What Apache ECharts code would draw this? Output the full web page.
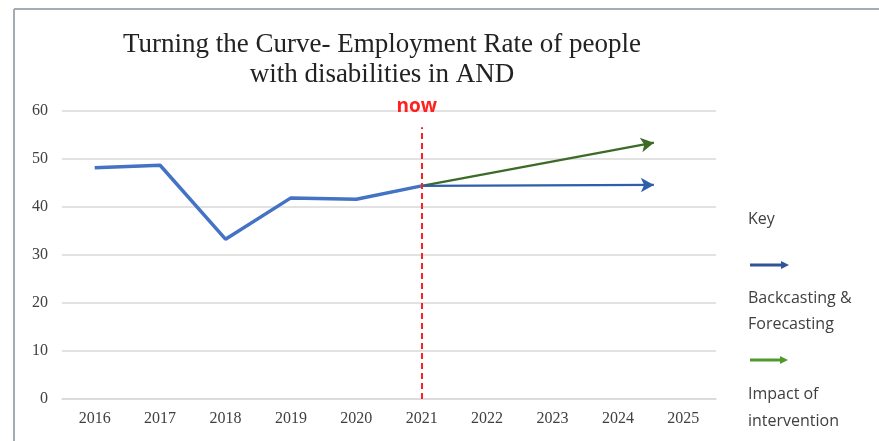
<!DOCTYPE html>
<html>
<head>
<meta charset="utf-8">
<script src="https://cdn.jsdelivr.net/npm/echarts@6/dist/echarts.min.js"></script>
<style>
html,body{margin:0;padding:0;background:#fff;}
#main{width:879px;height:441px;}
</style>
</head>
<body>
<div id="main"></div>
<script>
// data
var years = ["2016","2017","2018","2019","2020","2021","2022","2023","2024","2025"];
var rate = [48.2, 48.7, 33.3, 41.9, 41.6, 44.4];
// forecast arrows, x as year index (2016 = 0)
var forecastBase = [[5, 44.4], [8.55, 44.6]];
var forecastImpact = [[5, 44.4], [8.55, 53.4]];
var nowIndex = 5;
var nowTop = 56.6;

var serif = "'Liberation Serif', 'DejaVu Serif', serif";
var sans = "'Open Sans', 'Liberation Sans', sans-serif";

var chart = echarts.init(document.getElementById('main'));

var option = {
	animation : false,
	title : {
		text : "Turning the Curve- Employment Rate of people\nwith disabilities in AND",
		left : 377,
		top : 25,
		textAlign : "center",
		textStyle : {
			fontFamily : serif,
			fontWeight : "normal",
			fontSize : 27,
			lineHeight : 30,
			color : "#222"
		}
	},
	grid : {
		left : 62,
		right : 163,
		top : 111,
		bottom : 42
	},
	xAxis : [{
		type : "category",
		data : years,
		boundaryGap : true,
		axisLine : {show : true, lineStyle : {color : "#d9d9d9", width : 1.5}},
		axisTick : {show : false},
		axisLabel : {
			fontFamily : serif,
			fontSize : 16,
			color : "#404040",
			margin : 12
		}
	}, {
		type : "value",
		min : -0.5,
		max : 9.5,
		show : false
	}],
	yAxis : {
		type : "value",
		min : 0,
		max : 60,
		interval : 10,
		axisLine : {show : false},
		axisTick : {show : false},
		splitLine : {lineStyle : {color : "#d9d9d9", width : 1.5}},
		axisLabel : {
			fontFamily : serif,
			fontSize : 16,
			color : "#404040",
			margin : 14
		}
	},
	series : [{
		name : "rate",
		type : "line",
		xAxisIndex : 0,
		data : rate,
		symbol : "none",
		lineStyle : {color : "#4472C4", width : 3.5},
		z : 3
	}, {
		name : "forecast",
		type : "line",
		xAxisIndex : 1,
		data : [],
		markLine : {
			silent : true,
			symbol : ["none", "arrow"],
			symbolSize : [11, 13],
			label : {show : false},
			data : [
				[{coord : forecastImpact[0], lineStyle : {color : "#3B6B26", width : 2.2, type : "solid"}},
				 {coord : forecastImpact[1]}],
				[{coord : forecastBase[0], lineStyle : {color : "#2F5EAA", width : 2.2, type : "solid"}},
				 {coord : forecastBase[1]}],
				[{coord : [nowIndex, 0], lineStyle : {color : "#FF2020", width : 2, type : [6, 4]}, symbol : "none",
				  label : {show : true, position : "end", formatter : "now", color : "#FF2020", fontFamily : sans, fontWeight : "bold", fontSize : 19, distance : 11, offset : [-5, 0]}},
				 {coord : [nowIndex, nowTop], symbol : "none"}]
			]
		},
		z : 4
	}],
	graphic : [
		{type : "line", shape : {x1 : 14, y1 : 9, x2 : 879, y2 : 9}, style : {stroke : "#a3abb3", lineWidth : 2}},
		{type : "line", shape : {x1 : 14, y1 : 9, x2 : 14, y2 : 441}, style : {stroke : "#a3abb3", lineWidth : 2}},
		{type : "text", left : 748, top : 211, style : {text : "Key", font : "16px " + sans, fill : "#404040"}},
		{type : "line", shape : {x1 : 750, y1 : 265, x2 : 782, y2 : 265}, style : {stroke : "#2F5597", lineWidth : 3}},
		{type : "polygon", shape : {points : [[781, 261], [789, 265], [781, 269]]}, style : {fill : "#2F5597"}},
		{type : "text", left : 748, top : 285, style : {text : "Backcasting &\nForecasting", font : "16px " + sans, lineHeight : 26, fill : "#404040"}},
		{type : "line", shape : {x1 : 750, y1 : 360, x2 : 781, y2 : 360}, style : {stroke : "#4E9A2E", lineWidth : 3}},
		{type : "polygon", shape : {points : [[780, 356], [788, 360], [780, 364]]}, style : {fill : "#4E9A2E"}},
		{type : "text", left : 748, top : 381, style : {text : "Impact of\nintervention", font : "16px " + sans, lineHeight : 27, fill : "#404040"}}
	]
};
chart.setOption(option);
</script>
</body>
</html>
